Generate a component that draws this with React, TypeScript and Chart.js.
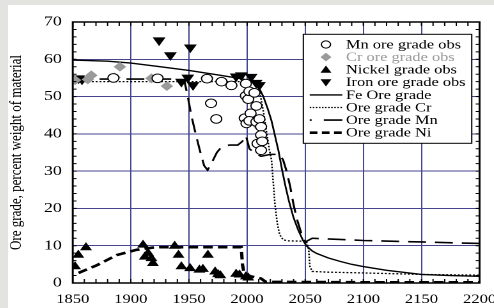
import React, { useEffect, useRef } from 'react';
import { Chart, registerables } from 'chart.js';
Chart.register(...registerables);

// ---------- data ----------
const yAxisTitle = 'Ore grade, percent weight of material';
const xTickStep = 50;
const yTickStep = 10;

const mnObs: [number, number][] = [
  [1885, 55], [1923, 54.9], [1965.5, 54.8], [1978, 54], [1986.5, 53], [1969, 48.2], [1973.5, 44],
  [1998, 44.2], [1999.5, 42.8], [1999, 50.2], [1999, 53.5], [2001, 49.3], [2002, 51.4], [2003, 45.5],
  [2002, 43.5], [2006.3, 51], [2008, 47.5], [2008, 43.2], [2010.6, 44], [2012, 41.9], [2012, 39.7],
  [2009, 37.4], [2012, 35.6], [2013, 38],
];
const crObs: [number, number][] = [
  [1852, 54.4], [1863, 54.6], [1866, 55.7], [1886, 55.1], [1890.6, 58], [1917.7, 54.9], [1931, 52.8],
  [2005, 44.6], [2010.6, 41.9],
];
const niObs: [number, number][] = [
  [1852, 4.4], [1854.8, 7.5], [1861.4, 9.5], [1910.5, 10.2], [1912, 7], [1914.8, 8], [1917.7, 6.6],
  [1919, 5.3], [1937.7, 9.9], [1941, 7.5], [1943.5, 4.4], [1951, 3.9], [1959, 3.5], [1962, 3.7],
  [1966.3, 7.5], [1972.5, 3.0], [1975, 2.3], [1977, 2.0], [1990.6, 2.4], [1993.5, 2.2], [1999, 1.7],
  [2001, 1.4],
];
const ironObs: [number, number][] = [
  [1855, 54.9], [1858, 54.6], [1924.3, 65.1], [1934, 61.1], [1951.2, 63.2], [1943.5, 54], [1949, 55.1],
  [1953.5, 53.1], [1990.6, 55.4], [1995, 55.7], [2003.5, 55.3], [2007.8, 53.7], [2010.6, 53.1],
];

const feLine: [number, number][] = [
  [1850, 59.8], [1880, 59.5], [1900, 59], [1925, 58], [1950, 57], [1975, 55.8], [1995, 54.8],
  [2005, 54], [2010, 52.5], [2014, 50], [2018, 46.5], [2021, 43.5], [2024, 39.5], [2027, 35.5],
  [2030, 30.5], [2033, 26], [2036, 22], [2040, 17.5], [2044, 14.2], [2048, 11.5], [2051, 10],
  [2056, 8.6], [2060, 7.9], [2065, 7.3], [2070, 6.7], [2080, 5.8], [2090, 5.0], [2100, 4.4],
  [2120, 3.4], [2150, 2.3], [2175, 2.0], [2200, 1.8],
];
const crLine: [number, number][] = [
  [1850, 54], [1900, 54], [1950, 54], [2000, 54], [2008, 53.5], [2011, 51], [2014, 46], [2017, 40],
  [2019, 36], [2021, 33], [2022.5, 27], [2024, 21], [2026, 16], [2028, 13], [2031, 11.6], [2035, 11.3],
  [2051, 11.2], [2053, 9], [2054, 4.5], [2056, 3.1], [2070, 2.9], [2100, 2.7], [2150, 2.3], [2200, 2.1],
];
const mnLine: [number, number][] = [
  [1850, 54.7], [1900, 54.7], [1940, 54.7], [1946, 54.3], [1949, 50], [1952, 45], [1955, 41],
  [1959, 36], [1963, 31.5], [1966, 30.3], [1970, 32.5], [1974, 35], [1978, 36.5], [1985, 37],
  [1992, 37], [1996, 38], [1999, 39.5], [2002, 36], [2006, 35], [2012, 34], [2020, 34.5],
  [2028, 34.5], [2031, 33], [2034, 30], [2037, 26], [2040, 21], [2043, 17], [2047, 13], [2050, 11],
  [2056, 12], [2100, 11.4], [2150, 11], [2200, 10.6],
];
const niLine: [number, number][] = [
  [1855, 2.7], [1871, 4.8], [1888, 7.5], [1905, 8.9], [1919, 9.5], [1925, 9.6], [1960, 9.6],
  [1995, 9.6], [1996, 5], [1997.5, 2.5], [2003, 1.8], [2012, 1.2], [2016, 0.3], [2100, 0.2], [2200, 0.2],
];

const legendOrder = [0, 1, 2, 3, 4, 5, 6, 7];

// ---------- styling ----------
const PAGE_BG = '#e3e3df';
const GRID = '#45458f';
const FONT = "'Liberation Serif', 'Times New Roman', serif";
const W = 380; // logical canvas width (stretched to 486 css px)
const H = 303;

const toXY = (arr: [number, number][]) => arr.map(([x, y]) => ({ x, y }));

const framePlugin = {
  id: 'frameTicks',
  afterDatasetsDraw(chart: any) {
    const { ctx, chartArea: a, scales } = chart;
    const xs = scales.x, ys = scales.y;
    ctx.save();
    ctx.strokeStyle = '#000';
    ctx.lineWidth = 1;
    ctx.setLineDash([]);
    ctx.beginPath();
    for (let v = xs.min; v <= xs.max; v += 10) {
      const p = xs.getPixelForValue(v);
      ctx.moveTo(p, a.bottom); ctx.lineTo(p, a.bottom - 4);
      ctx.moveTo(p, a.top); ctx.lineTo(p, a.top + 4);
    }
    for (let v = ys.min; v <= ys.max; v += 2) {
      const p = ys.getPixelForValue(v);
      ctx.moveTo(a.left, p); ctx.lineTo(a.left + 3, p);
      ctx.moveTo(a.right, p); ctx.lineTo(a.right - 3, p);
    }
    ctx.stroke();
    ctx.lineWidth = 1.5;
    ctx.strokeRect(a.left, a.top, a.right - a.left, a.bottom - a.top);
    ctx.restore();
  },
};

function drawMarker(ctx: CanvasRenderingContext2D, style: string, x: number, y: number, r: number, rot: number) {
  ctx.beginPath();
  if (style === 'circle') {
    ctx.arc(x, y, r, 0, Math.PI * 2);
  } else if (style === 'rectRot') {
    ctx.moveTo(x - r, y); ctx.lineTo(x, y - r); ctx.lineTo(x + r, y); ctx.lineTo(x, y + r);
  } else {
    const s = rot ? -1 : 1;
    const h = r * 0.9;
    ctx.moveTo(x, y - s * h);
    ctx.lineTo(x + r * 0.95, y + s * h * 0.8);
    ctx.lineTo(x - r * 0.95, y + s * h * 0.8);
  }
  ctx.closePath();
  ctx.fill();
  ctx.stroke();
}

const legendPlugin = {
  id: 'boxLegend',
  afterDraw(chart: any) {
    const { ctx, chartArea: a } = chart;
    const bw = 131.7, bh = 109;
    const bx = a.right - 6.1 - bw;
    const by = a.top + 12.3;
    ctx.save();
    ctx.fillStyle = '#fff';
    ctx.fillRect(bx, by, bw, bh);
    ctx.strokeStyle = '#000';
    ctx.lineWidth = 1;
    ctx.strokeRect(bx, by, bw, bh);
    ctx.font = `12.8px ${FONT}`;
    ctx.textBaseline = 'middle';
    ctx.textAlign = 'left';
    legendOrder.forEach((idx, i) => {
      const ds = chart.data.datasets[idx];
      const y = by + 10.2 + i * 12.6;
      if (ds.showLine) {
        ctx.beginPath();
        ctx.strokeStyle = ds.borderColor;
        ctx.lineWidth = ds.borderWidth;
        ctx.setLineDash(ds.legendDash || []);
        ctx.moveTo(bx + 5, y);
        ctx.lineTo(bx + 30.5, y);
        ctx.stroke();
        ctx.setLineDash([]);
      } else {
        ctx.fillStyle = ds.pointBackgroundColor;
        ctx.strokeStyle = ds.pointBorderColor;
        ctx.lineWidth = 1;
        drawMarker(ctx, ds.pointStyle, bx + 17.7, y, 3.6, ds.pointRotation || 0);
      }
      ctx.fillStyle = ds.legendColor || '#000';
      ctx.fillText(ds.label, bx + 33.4, y + 0.5);
    });
    ctx.restore();
  },
};

export default function App() {
  const ref = useRef<HTMLCanvasElement>(null);
  useEffect(() => {
    document.body.style.margin = '0';
    document.body.style.background = PAGE_BG;
    const pointDs = (label: string, data: [number, number][], style: string, fill: string, border: string, r: number, rot = 0, extra: any = {}) => ({
      label, data: toXY(data), showLine: false, pointStyle: style, pointRadius: r, pointRotation: rot,
      pointBackgroundColor: fill, pointBorderColor: border, pointBorderWidth: 1, order: 0, ...extra,
    });
    const lineDs = (label: string, data: [number, number][], width: number, dash: number[], legendDash: number[]) => ({
      label, data: toXY(data), showLine: true, borderColor: '#000', borderWidth: width, borderDash: dash,
      legendDash, pointRadius: 0, fill: false, tension: 0, order: 1,
    });
    const chart = new Chart(ref.current as HTMLCanvasElement, {
      type: 'scatter',
      data: {
        datasets: [
          pointDs('Mn ore grade obs', mnObs, 'circle', '#fff', '#000', 4.3),
          pointDs('Cr ore grade obs', crObs, 'rectRot', '#9a9a9a', '#9a9a9a', 4.2, 0, { legendColor: '#9a9a9a' }),
          pointDs('Nickel grade obs', niObs, 'triangle', '#000', '#000', 4.4),
          pointDs('Iron ore grade obs', ironObs, 'triangle', '#000', '#000', 4.8, 180),
          lineDs('Fe Ore grade', feLine, 1.4, [], []),
          lineDs('Ore grade Cr', crLine, 1.3, [1.5, 1.5], [1.2, 1.2]),
          lineDs('Ore grade Mn', mnLine, 1.6, [14, 7], [1.5, 9.5, 15]),
          lineDs('Ore grade Ni', niLine, 2.6, [7.5, 4], [6, 3.5]),
        ] as any,
      },
      options: {
        responsive: false,
        animation: false,
        devicePixelRatio: 2,
        layout: { padding: { left: 0, right: 11.3, top: 17, bottom: 0 } },
        plugins: { legend: { display: false }, tooltip: { enabled: false } },
        scales: {
          x: {
            type: 'linear', min: 1850, max: 2200,
            ticks: { stepSize: xTickStep, color: '#000', padding: 9, maxRotation: 0, font: { family: FONT, size: 13 }, callback: (v: any) => String(v) },
            grid: { color: GRID, lineWidth: 1, drawTicks: false },
            border: { display: false },
            afterFit(s: any) { s.height = 25; s.paddingLeft = 0; s.paddingRight = 0; },
          },
          y: {
            type: 'linear', min: 0, max: 70,
            ticks: { stepSize: yTickStep, color: '#000', padding: 8.5, font: { family: FONT, size: 14 }, callback: (v: any) => String(v) },
            grid: { color: GRID, lineWidth: 1, drawTicks: false },
            border: { display: false },
            title: { display: true, text: yAxisTitle, color: '#000', padding: 0, font: { family: FONT, size: 13, lineHeight: 1 } },
            afterFit(s: any) { s.width = 50.6; s.paddingTop = 0; s.paddingBottom = 0; },
          },
        },
      } as any,
      plugins: [framePlugin, legendPlugin],
    });
    return () => chart.destroy();
  }, []);
  return (
    <div style={{ position: 'relative', width: 494, height: 308, background: PAGE_BG, overflow: 'hidden' }}>
      <div style={{ position: 'absolute', left: 8, top: 5, width: 486, height: 303, background: '#fff' }}>
        <canvas ref={ref} width={W} height={H} style={{ width: '486px', height: '303px', display: 'block' }} />
      </div>
    </div>
  );
}
